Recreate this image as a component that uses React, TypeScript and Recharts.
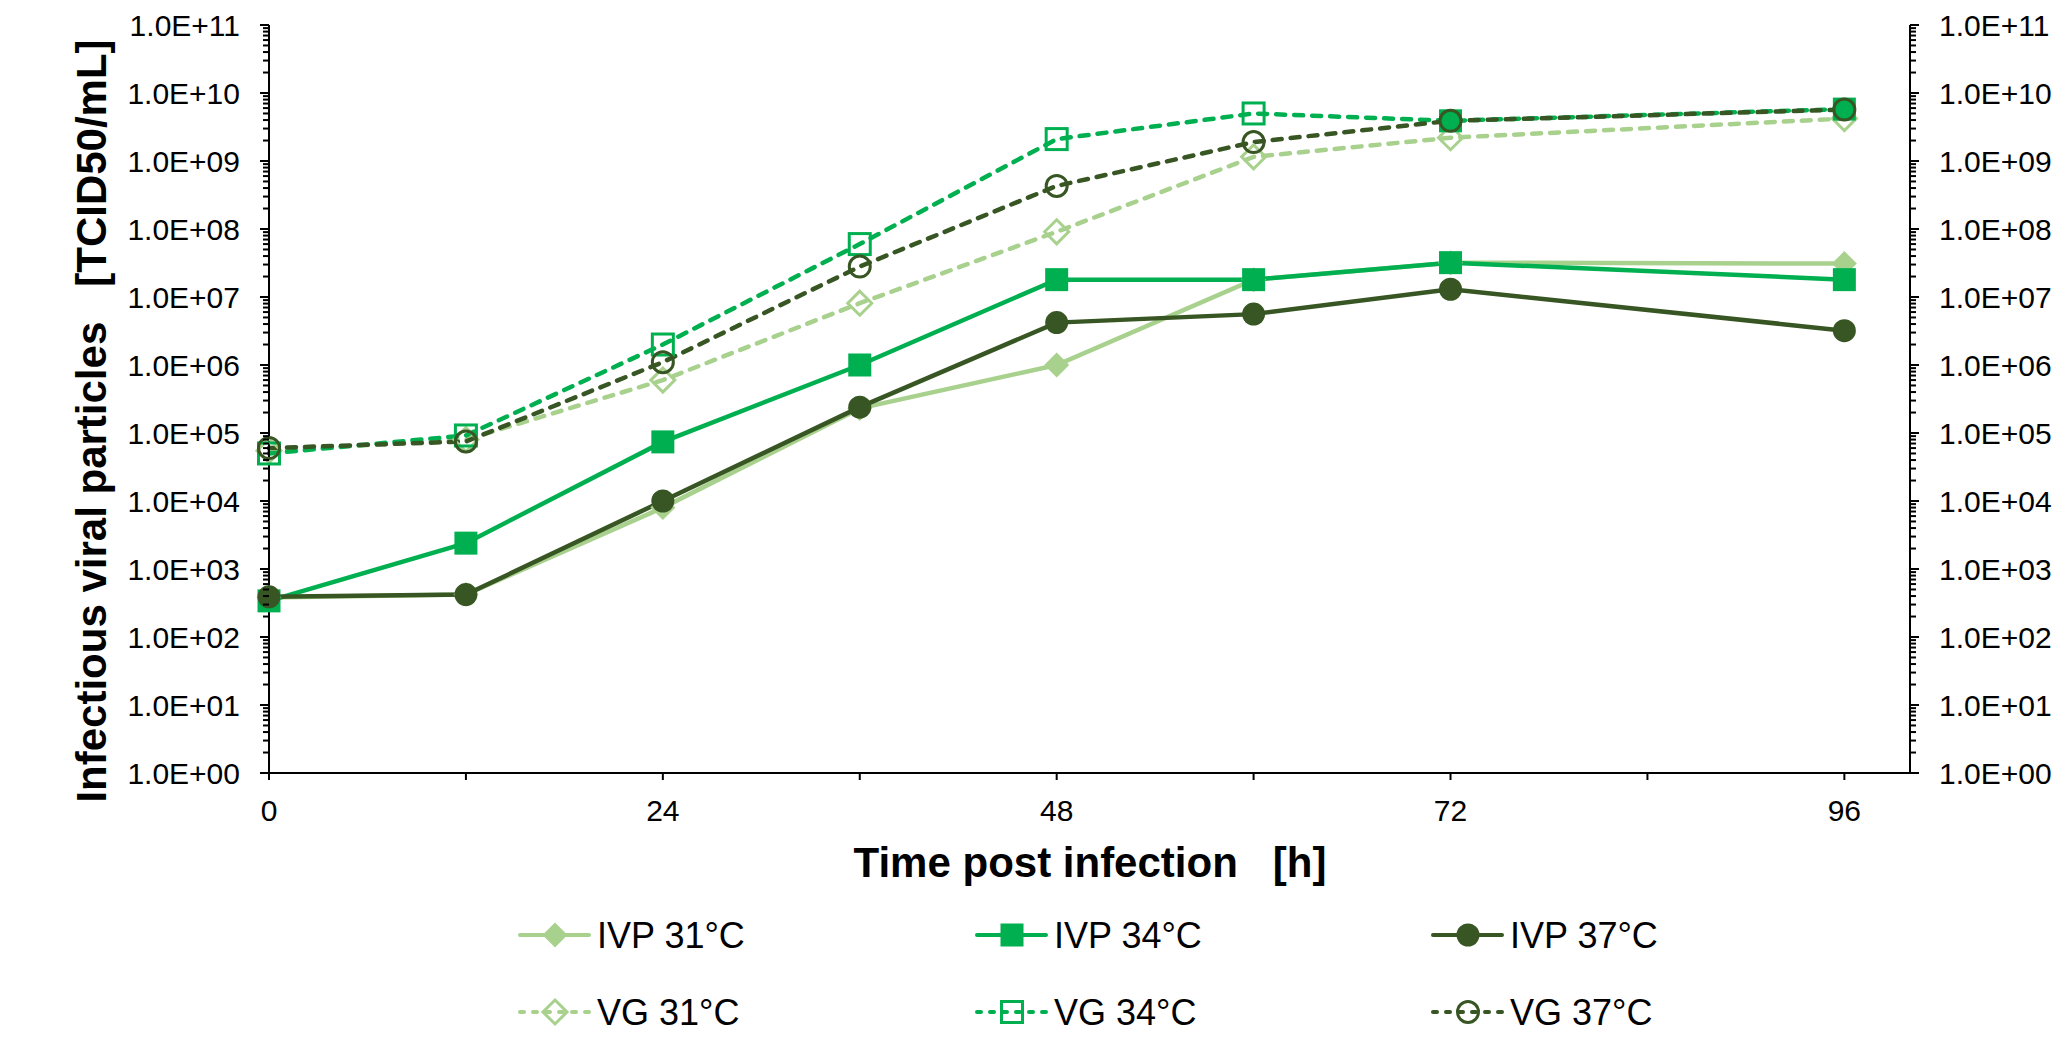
import { Line, LineChart, XAxis, YAxis } from "recharts";

const hours = [0, 12, 24, 36, 48, 60, 72, 96];
const ivp31 = [3.8e2, 4.2e2, 8.0e3, 2.3e5, 1.0e6, 1.8e7, 3.2e7, 3.1e7];
const ivp34 = [3.4e2, 2.4e3, 7.4e4, 1.0e6, 1.8e7, 1.8e7, 3.2e7, 1.8e7];
const ivp37 = [3.9e2, 4.2e2, 1.0e4, 2.4e5, 4.2e6, 5.6e6, 1.3e7, 3.2e6];
const vg31 = [5.5e4, 8.0e4, 6.0e5, 8.1e6, 9.1e7, 1.15e9, 2.2e9, 4.2e9];
const vg34 = [5.0e4, 9.2e4, 2.0e6, 6.0e7, 2.1e9, 5.0e9, 3.9e9, 5.8e9];
const vg37 = [6.0e4, 7.5e4, 1.1e6, 2.8e7, 4.3e8, 1.9e9, 3.9e9, 5.7e9];

const xTicks = [0, 12, 24, 36, 48, 60, 72, 84, 96];
const yTicks: number[] = [];
for (let e = 0; e < 11; e++) for (let m = 1; m < 10; m++) yTicks.push(m * Math.pow(10, e));
yTicks.push(1e11);

const LIGHT = "#A9D18E";
const MID = "#00B050";
const DARK = "#375623";
const FONT = "'Liberation Sans', Arial, sans-serif";

type Shape = "diamond" | "square" | "circle";
interface Series {
  key: string;
  name: string;
  color: string;
  shape: Shape;
  open: boolean;
  values: number[];
  filledAt?: number[];
}

const series: Series[] = [
  { key: "ivp31", name: "IVP 31°C", color: LIGHT, shape: "diamond", open: false, values: ivp31 },
  { key: "ivp34", name: "IVP 34°C", color: MID, shape: "square", open: false, values: ivp34 },
  { key: "ivp37", name: "IVP 37°C", color: DARK, shape: "circle", open: false, values: ivp37 },
  { key: "vg31", name: "VG 31°C", color: LIGHT, shape: "diamond", open: true, values: vg31 },
  { key: "vg34", name: "VG 34°C", color: MID, shape: "square", open: true, values: vg34, filledAt: [6, 7] },
  { key: "vg37", name: "VG 37°C", color: DARK, shape: "circle", open: true, values: vg37 },
];

const data = hours.map((h, i) => {
  const row: Record<string, number> = { h };
  series.forEach((s) => (row[s.key] = s.values[i]));
  return row;
});

const Marker = ({ cx, cy, shape, color, open }: { cx: number; cy: number; shape: Shape; color: string; open: boolean }) => {
  const fill = open ? "none" : color;
  const stroke = open ? color : "none";
  const sw = open ? 3 : 0;
  if (shape === "diamond") {
    const r = open ? 12 : 12.5;
    return <polygon points={`${cx},${cy - r} ${cx + r},${cy} ${cx},${cy + r} ${cx - r},${cy}`} fill={fill} stroke={stroke} strokeWidth={sw} />;
  }
  if (shape === "square") {
    const s = open ? 21 : 23;
    return <rect x={cx - s / 2} y={cy - s / 2} width={s} height={s} fill={fill} stroke={stroke} strokeWidth={sw} />;
  }
  return <circle cx={cx} cy={cy} r={open ? 10.5 : 11.5} fill={fill} stroke={stroke} strokeWidth={sw} />;
};

const dotFor = (s: Series) => (p: any) => (
  <Marker
    key={`${s.key}-${p.index}`}
    cx={p.cx}
    cy={p.cy}
    shape={s.shape}
    color={s.color}
    open={s.open && !(s.filledAt || []).includes(p.index)}
  />
);

const fmtExp = (v: number) => `1.0E+${String(Math.round(Math.log10(v))).padStart(2, "0")}`;

const YTick = ({ x, y, payload, side }: any) => {
  const v = payload.value;
  const lg = Math.log10(v);
  const major = Math.abs(lg - Math.round(lg)) < 1e-6;
  const dir = side === "left" ? -1 : 1;
  return (
    <g>
      <line x1={x} y1={y} x2={x + dir * (major ? 9 : 6)} y2={y} stroke="#000" strokeWidth={2} />
      {major && (
        <text
          x={x + dir * 29}
          y={y + 10.7}
          textAnchor={side === "left" ? "end" : "start"}
          fontSize={30}
          fontFamily={FONT}
          fill="#000"
        >
          {fmtExp(v)}
        </text>
      )}
    </g>
  );
};

const legendCols = [520, 977, 1433];
const legendRows = [935, 1012];

const App = () => (
  <div style={{ position: "absolute", left: 0, top: 0, width: 2069, height: 1053, background: "#fff" }}>
    <LineChart width={2069} height={1053} data={data} margin={{ top: 25, right: 9, bottom: 220, left: 69 }}>
      <XAxis
        dataKey="h"
        type="number"
        domain={[0, 100]}
        ticks={xTicks}
        interval={0}
        tickSize={7}
        tickMargin={20}
        tickFormatter={(v: number) => (v % 24 === 0 ? String(v) : "")}
        tick={{ fontSize: 30, fill: "#000", fontFamily: FONT }}
        axisLine={{ stroke: "#000", strokeWidth: 2 }}
        tickLine={{ stroke: "#000", strokeWidth: 2 }}
        height={60}
      />
      <YAxis
        yAxisId="left"
        orientation="left"
        scale="log"
        type="number"
        domain={[1, 1e11]}
        allowDataOverflow
        ticks={yTicks}
        interval={0}
        tickSize={0}
        tickMargin={0}
        tickLine={false}
        axisLine={{ stroke: "#000", strokeWidth: 2 }}
        tick={(p: any) => <YTick {...p} side="left" />}
        width={200}
      />
      <YAxis
        yAxisId="right"
        orientation="right"
        scale="log"
        type="number"
        domain={[1, 1e11]}
        allowDataOverflow
        ticks={yTicks}
        interval={0}
        tickSize={0}
        tickMargin={0}
        tickLine={false}
        axisLine={{ stroke: "#000", strokeWidth: 2 }}
        tick={(p: any) => <YTick {...p} side="right" />}
        width={150}
      />
      {series.map((s) => (
        <Line
          key={s.key}
          yAxisId="left"
          dataKey={s.key}
          name={s.name}
          type="linear"
          stroke={s.color}
          strokeWidth={4.5}
          strokeDasharray={s.open ? "9 9" : undefined}
          strokeLinecap={s.open ? "round" : "butt"}
          dot={dotFor(s)}
          activeDot={false}
          isAnimationActive={false}
        />
      ))}
    </LineChart>
    <svg width={2069} height={1053} style={{ position: "absolute", left: 0, top: 0, pointerEvents: "none" }}>
      <text x={1090} y={877} textAnchor="middle" fontSize={42} fontWeight="bold" fontFamily={FONT} fill="#000" xmlSpace="preserve">
        {"Time post infection   [h]"}
      </text>
      <text
        x={106}
        y={421}
        transform="rotate(-90 106 421)"
        textAnchor="middle"
        fontSize={42}
        fontWeight="bold"
        fontFamily={FONT}
        fill="#000"
        xmlSpace="preserve"
      >
        {"Infectious viral particles   [TCID50/mL]"}
      </text>
      {series.map((s, i) => {
        const x0 = legendCols[i % 3];
        const y = legendRows[Math.floor(i / 3)];
        return (
          <g key={s.key}>
            <line
              x1={x0}
              y1={y}
              x2={x0 + 69}
              y2={y}
              stroke={s.color}
              strokeWidth={4}
              strokeDasharray={s.open ? "4 9" : undefined}
              strokeLinecap="round"
            />
            <Marker cx={x0 + 35} cy={y} shape={s.shape} color={s.color} open={s.open} />
            <text x={x0 + 77} y={y + 13} fontSize={36} fontFamily={FONT} fill="#000">
              {s.name}
            </text>
          </g>
        );
      })}
    </svg>
  </div>
);

export default App;
